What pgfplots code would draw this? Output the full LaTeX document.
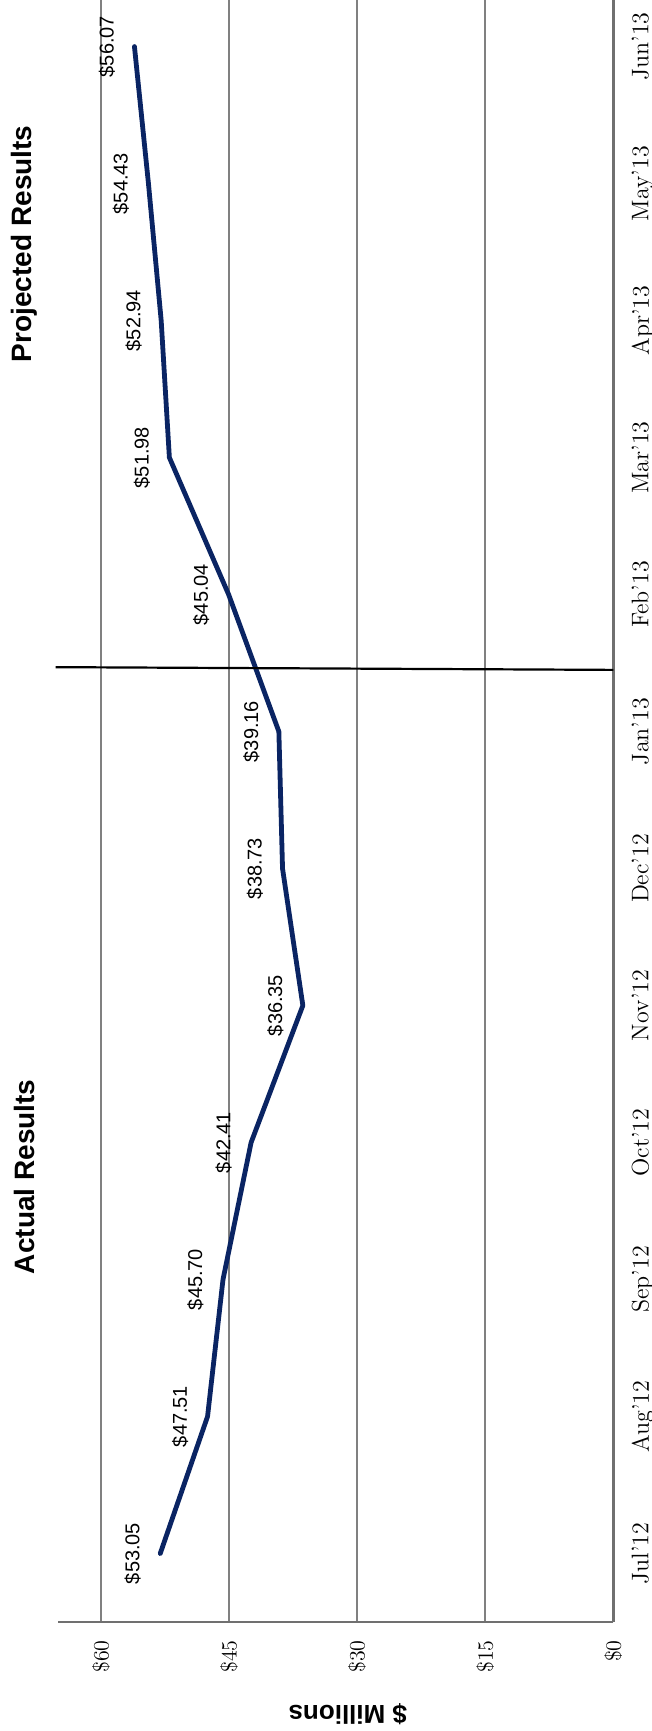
\documentclass[border=0pt]{standalone}
\usepackage{fontspec}
\setsansfont{Liberation Sans}
\usepackage{pgfplots}
\pgfplotsset{compat=1.18}

\definecolor{navy}{RGB}{10,36,99}
\definecolor{gridgray}{RGB}{128,128,128}
\definecolor{axisgray}{RGB}{112,112,112}

\begin{document}
\begin{tikzpicture}
\begin{axis}[
  at={(0,0)}, anchor=south west,
  scale only axis, width=277.55pt, height=811pt,
  x dir=reverse,
  xmin=0, xmax=65, ymin=-0.5, ymax=11.34,
  axis x line*=bottom, axis y line*=right,
  axis line style={draw=axisgray, line width=1.3pt, -},
  xtick={0,15,30,45,60},
  xticklabels={\$0,\$15,\$30,\$45,\$60},
  ytick={0,...,11},
  yticklabels={Jul'12,Aug'12,Sep'12,Oct'12,Nov'12,Dec'12,Jan'13,Feb'13,Mar'13,Apr'13,May'13,Jun'13},
  major tick length=0pt,
  xmajorgrids, grid style={draw=gridgray, line width=0.85pt},
  xticklabel style={rotate=90, anchor=east, inner sep=9pt, font=\fontsize{11}{13}\selectfont},
  yticklabel style={rotate=90, anchor=north, inner sep=9pt, font=\fontsize{12}{14}\selectfont},
  clip=false,
]
% monthly results, Jul'12 to Jun'13 ($ millions)
\addplot[navy, line width=2.4pt, line cap=round, line join=round,
  point meta=x,
  nodes near coords={\$\pgfmathprintnumber[fixed,fixed zerofill,precision=2,assume math mode=true]{\pgfplotspointmeta}},
  every node near coord/.append style={rotate=90, anchor=south, inner sep=8.5pt,
    text=black, font=\sffamily\fontsize{10}{12}\selectfont}]
  coordinates {
  (53.05,0) (47.51,1) (45.70,2) (42.41,3) (36.35,4) (38.73,5)
  (39.16,6) (45.04,7) (51.98,8) (52.94,9) (54.43,10) (56.07,11)};
% divider between actual and projected months
\addplot[black, line width=1.1pt, forget plot] coordinates {(65.3,6.47) (0,6.45)};

\node[rotate=90, font=\sffamily\bfseries\fontsize{14}{17}\selectfont] at (axis cs:69,2.75) {Actual Results};
\node[rotate=90, font=\sffamily\bfseries\fontsize{14}{17}\selectfont] at (axis cs:69,9.56) {Projected Results};
\end{axis}
% value-axis title, set below the tick labels
\node[rotate=180, font=\sffamily\bfseries\fontsize{13}{15}\selectfont] at (144.8pt,-46pt) {\$ Millions};
\pgfresetboundingbox
\path[use as bounding box] (-29.1pt,-54.5pt) rectangle (296.9pt,811pt);
\end{tikzpicture}
\end{document}
